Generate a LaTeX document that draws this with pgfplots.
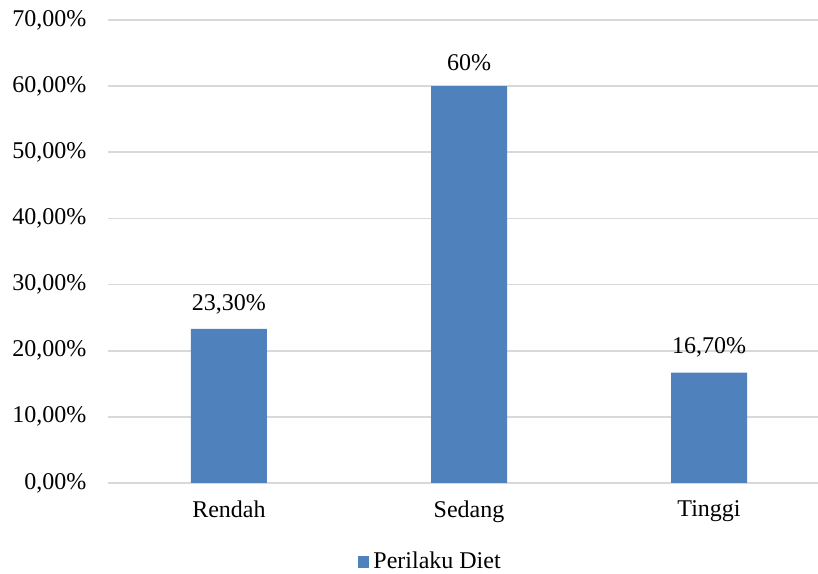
\documentclass[border=0pt]{standalone}
\usepackage{pgfplots}
\pgfplotsset{compat=1.18}
\usepackage{fontspec}
\setmainfont{Liberation Serif}
\definecolor{barblue}{HTML}{4F81BD}
\definecolor{gridgray}{HTML}{D9D9D9}
\newcommand{\cf}{\fontsize{12}{14}\selectfont}
\begin{document}
\begin{tikzpicture}
\begin{axis}[
  scale only axis,
  width=355pt, height=231.5pt,
  xmin=-0.504, xmax=2.454,
  ymin=0, ymax=70,
  axis line style={draw=none},
  major tick length=0pt,
  xtick={0,1,2},
  xticklabels={Rendah,Sedang,Tinggi},
  ytick={0,10,20,30,40,50,60,70},
  yticklabels={{0,00\%},{10,00\%},{20,00\%},{30,00\%},{40,00\%},{50,00\%},{60,00\%},{70,00\%}},
  ymajorgrids,
  grid style={gridgray, line width=0.8pt},
  tick label style={font=\cf},
  yticklabel style={xshift=-7.3pt},
  xticklabel style={yshift=-5.5pt},
  ybar, bar width=38pt,
  nodes near coords,
  point meta=explicit symbolic,
  nodes near coords style={font=\cf, yshift=4pt},
  legend style={at={(0.4556,-0.1706)}, anchor=center, draw=none, font=\cf,
    inner sep=0pt, legend cell align=left},
  legend image code/.code={\fill[barblue] (0pt,-2.8pt) rectangle (5.6pt,2.8pt);},
  clip=false,
]
\addplot[fill=barblue, draw=none] table[meta=lab] {
x y lab
0 23.3 23,30\%
1 60 60\%
2 16.7 16,70\%
};
\addlegendentry{Perilaku Diet}
\end{axis}
\pgfresetboundingbox
\path (current axis.south west) ++(-54pt,-45.5pt) coordinate (bbA);
\path (current axis.north east) ++(0pt,10pt) coordinate (bbB);
\useasboundingbox (bbA) rectangle (bbB);
\end{tikzpicture}
\end{document}
